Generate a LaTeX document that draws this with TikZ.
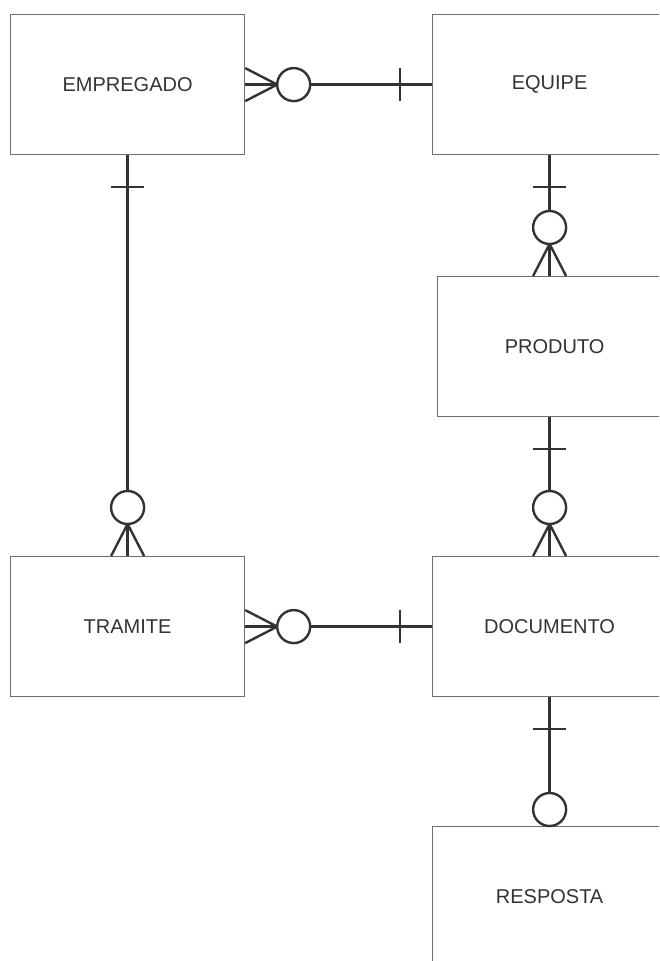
\documentclass[tikz,border=0pt]{standalone}
\usepackage{fontspec}
\setmainfont{Liberation Sans}
\usetikzlibrary{calc}
\definecolor{ink}{HTML}{333333}
\definecolor{frame}{HTML}{6E6E6E}
\begin{document}
\begin{tikzpicture}[x=1pt,y=-1pt,
  entity/.style={draw=frame, line width=1.2pt, fill=white,
    minimum width=234pt, minimum height=140pt, inner sep=0pt,
    anchor=north west, text=ink, font=\fontsize{20}{24}\selectfont},
  rel/.style={draw=ink, line width=2.4pt},
  % zero-or-many end: crow's foot plus circle, pointing along +x from the box edge
  crowopt/.pic={
    \draw[rel, line join=miter] (0,-16.5) -- (32,0) -- (0,16.5);
    \draw[rel, fill=white] (48.5,0) circle (16.5pt);},
  % exactly-one end: a single bar across the line
  onebar/.pic={\draw[rel] (32,-16.5) -- (32,16.5);},
  % zero end: circle touching the box edge
  zeroend/.pic={\draw[rel, fill=white] (16.5,0) circle (16.5pt);}
]
\useasboundingbox (0,0) rectangle (659,961);
\clip (0,0) rectangle (659,961);

% entities
\node[entity] (emp)  at (10,14)   {EMPREGADO};
\node[entity] (equ)  at (432,14)  {EQUIPE};
\node[entity] (prod) at (437,276) {PRODUTO};
\node[entity] (tra)  at (10,556)  {TRAMITE};
\node[entity] (doc)  at (432,556) {DOCUMENTO};
\node[entity] (res)  at (432,826) {RESPOSTA};

% relationship lines
\draw[rel] (emp.east) -- (equ.west);
\draw[rel] (equ.south) -- (equ.south |- prod.north);
\draw[rel] (emp.south) -- (emp.south |- tra.north);
\draw[rel] (tra.east) -- (doc.west);
\draw[rel] (doc.north |- prod.south) -- (doc.north);
\draw[rel] (doc.south) -- (doc.south |- res.north);

% cardinality marks
\pic at (emp.east) {crowopt};
\pic[rotate=180] at (equ.west) {onebar};

\pic[rotate=-90] at (equ.south) {onebar};
\pic[rotate=90] at (equ.south |- prod.north) {crowopt};

\pic[rotate=-90] at (emp.south) {onebar};
\pic[rotate=90] at (emp.south |- tra.north) {crowopt};

\pic at (tra.east) {crowopt};
\pic[rotate=180] at (doc.west) {onebar};

\pic[rotate=-90] at (doc.north |- prod.south) {onebar};
\pic[rotate=90] at (doc.north) {crowopt};

\pic[rotate=-90] at (doc.south) {onebar};
\pic[rotate=90] at (doc.south |- res.north) {zeroend};
\end{tikzpicture}
\end{document}
